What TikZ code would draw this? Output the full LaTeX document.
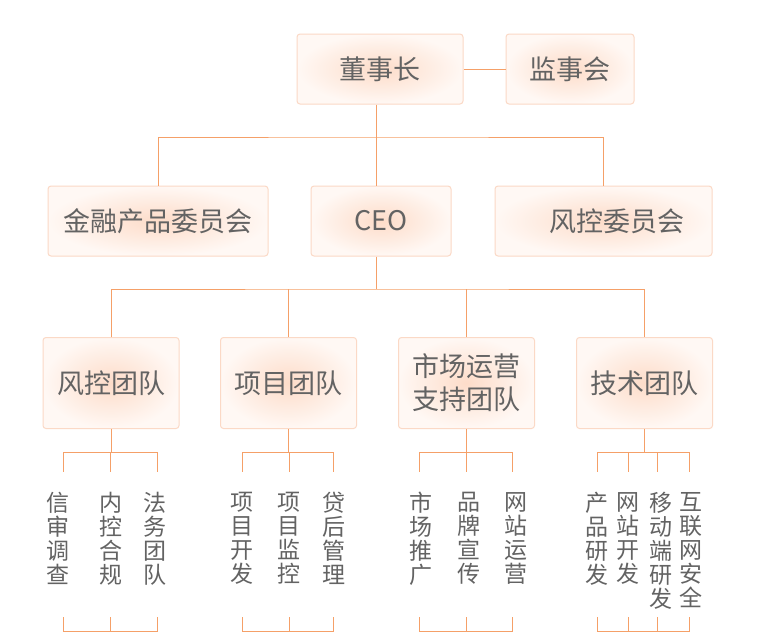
\documentclass[tikz,border=0pt]{standalone}
\usepackage{fontspec}
\setmainfont{Noto Sans CJK SC}
\usetikzlibrary{backgrounds}
\definecolor{linec}{HTML}{F5A068}
\definecolor{txt}{HTML}{636363}
\definecolor{boxin}{HTML}{FDDCC9}
\definecolor{boxout}{HTML}{FFF8F4}
\definecolor{boxedge}{HTML}{FBD9C6}
\definecolor{glowc}{HTML}{FCD3BC}
\begin{document}
\begin{tikzpicture}[x=1pt,y=-1pt,
  box/.style={draw=boxedge, line width=1pt, rounded corners=3pt,
    inner color=boxin, outer color=boxout, text=txt,
    font=\fontsize{27}{33}\selectfont, inner sep=0pt, align=center,
    minimum height=70},
  teambox/.style={box, minimum width=136, minimum height=91},
  leaf/.style={text=txt, font=\fontsize{23}{24}\selectfont, align=center,
    inner sep=0pt, anchor=north},
  conn/.style={draw=linec, line width=1pt}]
\useasboundingbox[fill=white] (0,0) rectangle (757,633);

% top row
\node[box, minimum width=166] (chair) at (380,69) {董事长};
\node[box, minimum width=128] (sup) at (570,69) {监事会};
% middle row
\node[box, minimum width=220] (fin) at (158,221) {金融产品委员会};
\node[box, minimum width=140] (ceo) at (381,221) {CEO};
\node[box, minimum width=217] (rcom) at (603.5,221) {\hspace*{27pt}风控委员会};
% teams
\node[teambox] (t1) at (111,383) {风控团队};
\node[teambox] (t2) at (288.5,383) {项目团队};
\node[teambox] (t3) at (466.5,383) {市场运营\\支持团队};
\node[teambox] (t4) at (644.5,383) {技术团队};

% glow
\begin{scope}[on background layer]
  \foreach \n in {chair,sup,fin,ceo,rcom,t1,t2,t3,t4}{
    \foreach \k in {3,6,9}{
      \fill[glowc, opacity=0.07, rounded corners=6pt]
        ([shift={(-\k,\k)}]\n.south west) rectangle ([shift={(\k,-\k)}]\n.north east);
    }
  }
\end{scope}

% connectors top
\coordinate (j1) at (376,137);
\coordinate (j2) at (376,289);
\draw[conn] (chair.east) -- (sup.west |- chair.east);
\draw[conn] (chair.south -| j1) -- (j1);
\draw[conn] (fin.north) |- (j1) -| (rcom.north);
\draw[conn] (j1) -- (ceo.north -| j1);
\draw[conn] (ceo.south -| j2) -- (j2);
\draw[conn] (t1.north) |- (j2) -| (t4.north);
\draw[conn] (t2.north) -- (t2.north |- j2);
\draw[conn] (t3.north) -- (t3.north |- j2);

% leaves
\node[leaf] (l11) at (58,492) {信\\审\\调\\查};
\node[leaf] (l12) at (111,492) {内\\控\\合\\规};
\node[leaf] (l13) at (155,492) {法\\务\\团\\队};
\node[leaf] (l21) at (242,492) {项\\目\\开\\发};
\node[leaf] (l22) at (289,492) {项\\目\\监\\控};
\node[leaf] (l23) at (334,492) {贷\\后\\管\\理};
\node[leaf] (l31) at (421,492) {市\\场\\推\\广};
\node[leaf] (l32) at (469,492) {品\\牌\\宣\\传};
\node[leaf] (l33) at (516,492) {网\\站\\运\\营};
\node[leaf] (l41) at (597,492) {产\\品\\研\\发};
\node[leaf] (l42) at (628,492) {网\\站\\开\\发};
\node[leaf] (l43) at (661,492) {移\\动\\端\\研\\发};
\node[leaf] (l44) at (691,492) {互\\联\\网\\安\\全};

% brackets
\foreach \t/\xs in {t1/{63,110,157}, t2/{242,289,333}, t3/{419,466,512}, t4/{597,628,657,689}}{
  \coordinate (b\t) at (\t.south |- 0,452);
  \draw[conn] (\t.south) -- (b\t);
  \foreach \x [count=\i] in \xs {
    \ifnum\i=1 \xdef\firstx{\x}\fi
    \xdef\lastx{\x}
    \coordinate (u\t\i) at (\x,472);
    \coordinate (v\t\i) at (\x,452);
    \draw[conn] (v\t\i) -- (u\t\i);
    \coordinate (p\t\i) at (\x,617);
    \coordinate (q\t\i) at (\x,631.5);
    \draw[conn] (p\t\i) -- (q\t\i);
  }
  \coordinate (bl\t) at (\firstx,452);
  \coordinate (br\t) at (\lastx,452);
  \coordinate (cl\t) at (\firstx,631.5);
  \coordinate (cr\t) at (\lastx,631.5);
  \draw[conn] (bl\t) -- (br\t);
  \draw[conn] (cl\t) -- (cr\t);
}
\end{tikzpicture}
\end{document}
